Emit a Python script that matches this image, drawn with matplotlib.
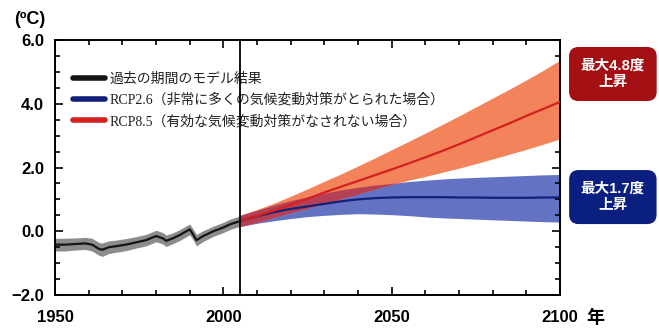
import matplotlib
matplotlib.use('Agg')
import matplotlib.pyplot as plt
from matplotlib.lines import Line2D
import numpy as np

plt.rcParams['font.family'] = ['Liberation Sans', 'Noto Sans CJK JP', 'DejaVu Sans']

# historical model results (1950-2005)
hist_years = [1950, 1953, 1956, 1959, 1961, 1963, 1964, 1966, 1968, 1971, 1974,
              1977, 1980, 1982, 1983, 1985, 1987, 1990, 1991, 1992, 1994, 1997,
              2000, 2002, 2005]
hist_mean = [-0.42, -0.42, -0.40, -0.38, -0.42, -0.55, -0.58, -0.50, -0.47, -0.42,
             -0.35, -0.28, -0.15, -0.22, -0.30, -0.22, -0.12, 0.06, -0.10, -0.28,
             -0.15, 0.00, 0.12, 0.22, 0.32]
hist_spread = [0.20, 0.20, 0.19, 0.19, 0.20, 0.20, 0.21, 0.20, 0.19, 0.19, 0.18,
               0.18, 0.18, 0.18, 0.18, 0.17, 0.17, 0.17, 0.17, 0.18, 0.17, 0.16,
               0.16, 0.16, 0.16]

# projections (2005-2100)
proj_years = [2005, 2010, 2015, 2020, 2025, 2030, 2035, 2040, 2045, 2050,
              2055, 2060, 2065, 2070, 2075, 2080, 2085, 2090, 2095, 2100]
rcp85_mean = [0.33, 0.48, 0.65, 0.83, 1.02, 1.22, 1.40, 1.58, 1.76, 1.94,
              2.13, 2.32, 2.52, 2.73, 2.95, 3.17, 3.39, 3.62, 3.84, 4.06]
rcp85_upper = [0.50, 0.68, 0.88, 1.10, 1.33, 1.57, 1.80, 2.05, 2.30, 2.56,
               2.82, 3.08, 3.35, 3.62, 3.90, 4.18, 4.46, 4.75, 5.05, 5.37]
rcp85_lower = [0.15, 0.28, 0.43, 0.58, 0.72, 0.87, 1.02, 1.17, 1.32, 1.47,
               1.60, 1.72, 1.85, 1.98, 2.12, 2.27, 2.42, 2.57, 2.73, 2.90]
rcp26_mean = [0.33, 0.47, 0.60, 0.70, 0.78, 0.86, 0.94, 1.00, 1.04, 1.06,
              1.07, 1.07, 1.07, 1.06, 1.06, 1.05, 1.05, 1.05, 1.06, 1.06]
rcp26_upper = [0.50, 0.66, 0.82, 0.96, 1.08, 1.20, 1.30, 1.38, 1.45, 1.50,
               1.56, 1.60, 1.64, 1.67, 1.69, 1.71, 1.73, 1.75, 1.77, 1.78]
rcp26_lower = [0.15, 0.25, 0.33, 0.40, 0.46, 0.50, 0.53, 0.55, 0.54, 0.52,
               0.49, 0.45, 0.42, 0.40, 0.38, 0.36, 0.34, 0.32, 0.30, 0.29]

legend_labels = ['過去の期間のモデル結果',
                 'RCP2.6（非常に多くの気候変動対策がとられた場合）',
                 'RCP8.5（有効な気候変動対策がなされない場合）']
x_ticks = [1950, 2000, 2050, 2100]
y_ticks = [-2.0, 0.0, 2.0, 4.0, 6.0]
box_texts = ['最大4.8度\n上昇', '最大1.7度\n上昇']

fig = plt.figure(figsize=(6.59, 3.29), dpi=100)
ax = fig.add_axes([0.0835, 0.1033, 0.7665, 0.7751])

hist_mean = np.array(hist_mean)
hist_spread = np.array(hist_spread)
ax.fill_between(hist_years, hist_mean - hist_spread, hist_mean + hist_spread,
                color='#8c8c8c', lw=0, zorder=1)
ax.plot(hist_years, hist_mean, color='#151515', lw=1.6, zorder=5)

ax.fill_between(proj_years, rcp26_lower, rcp26_upper, color='#6472c4', lw=0, zorder=1)
ax.fill_between(proj_years, rcp85_lower, rcp85_upper, color='#f3835a', lw=0, zorder=2)
# overlap of the two ranges
ov_lo = np.maximum(rcp26_lower, rcp85_lower)
ov_hi = np.minimum(rcp26_upper, rcp85_upper)
ax.fill_between(proj_years, ov_lo, ov_hi, where=ov_hi > ov_lo, interpolate=True,
                color='#b53f55', lw=0, zorder=3)
ax.plot(proj_years, rcp26_mean, color='#13207a', lw=1.6, zorder=5)
ax.plot(proj_years, rcp85_mean, color='#d42020', lw=1.6, zorder=6)

ax.axvline(2005, color='black', lw=1.3, zorder=7)

ax.set_xlim(1950, 2100)
ax.set_ylim(-2, 6)
ax.set_xticks(x_ticks)
ax.set_xticks(np.arange(1950, 2101, 10), minor=True)
ax.set_yticks(y_ticks)
ax.set_yticks(np.arange(-2, 6.01, 0.5), minor=True)
ax.set_xticklabels([str(t) for t in x_ticks], fontsize=12, fontweight='bold')
ax.set_yticklabels([f'{t:.1f}'.replace('-', '−') for t in y_ticks],
                   fontsize=12, fontweight='bold')
ax.tick_params(which='both', direction='in', top=True, right=True, width=1.2)
ax.tick_params(which='major', length=6)
ax.tick_params(which='minor', length=3.5)
ax.tick_params(axis='x', which='major', pad=11)
ax.tick_params(axis='y', which='major', pad=8)
for s in ax.spines.values():
    s.set_linewidth(1.4)

ax.annotate('年', xy=(2100, -2), xycoords='data', xytext=(19, -17),
            textcoords='offset points', fontsize=13, fontweight='bold',
            ha='left', va='center', annotation_clip=False)
fig.text(0.022, 0.94, '(ºC)', fontsize=13, fontweight='bold', ha='left', va='center')

handles = [Line2D([], [], color=c, lw=4, solid_capstyle='round')
           for c in ['#151515', '#13207a', '#d42020']]
leg = ax.legend(handles, legend_labels, loc='upper left',
                bbox_to_anchor=(0.036, 0.873), frameon=False,
                borderpad=0, borderaxespad=0, handlelength=2.3,
                handletextpad=0.3, labelspacing=0.55,
                prop={'family': ['Liberation Serif', 'Noto Sans CJK JP'], 'size': 10})
for t in leg.get_texts():
    t.set_color('#222222')

box_colors = ['#a30f12', '#0b1f80']
box_y = [0.775, 0.401]
for txt, col, yy in zip(box_texts, box_colors, box_y):
    fig.text(0.930, yy, txt, fontsize=10.5, fontweight='bold', color='white',
             ha='center', va='center', linespacing=1.25,
             bbox=dict(boxstyle='round,pad=0.75,rounding_size=0.6',
                       facecolor=col, edgecolor=col))

fig.savefig('out.png', dpi=100, facecolor='white')
